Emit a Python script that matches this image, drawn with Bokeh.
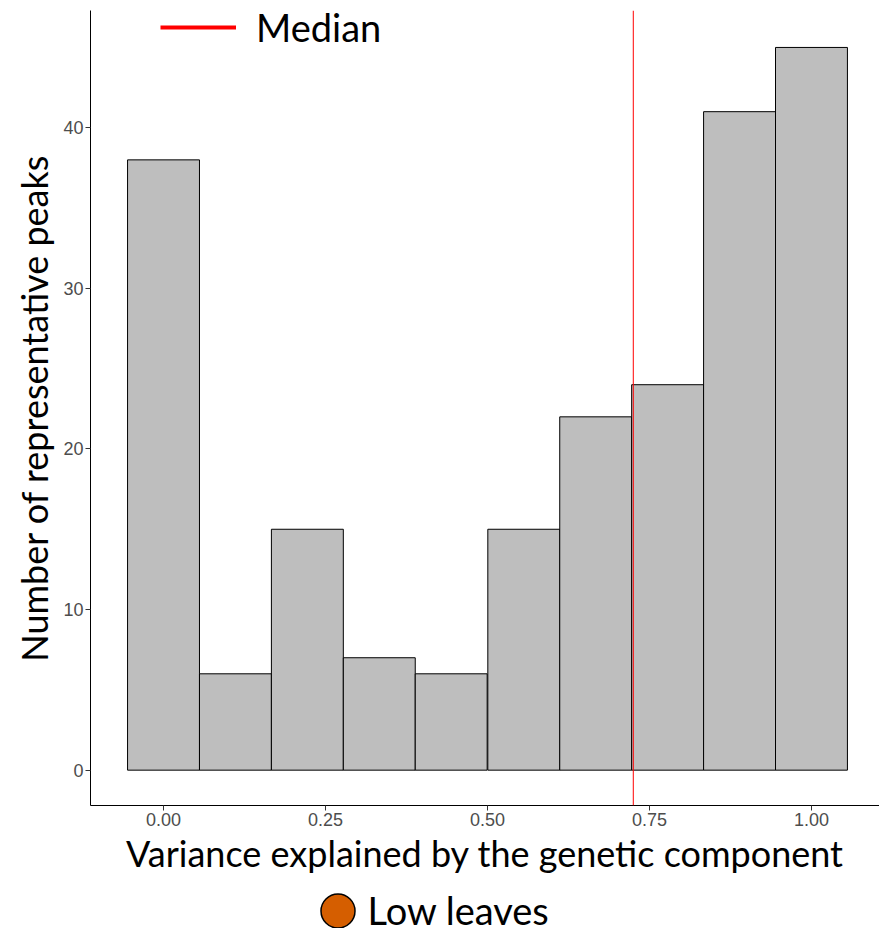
from bokeh.plotting import figure
from bokeh.layouts import column
from bokeh.models import (Span, Legend, LegendItem, FixedTicker, Label,
                          NumeralTickFormatter, ColumnDataSource, Range1d)
from bokeh.embed import file_html
from bokeh.resources import INLINE

# Histogram bins (centres and width) and counts of representative peaks
bin_centers = [0.000, 0.111, 0.222, 0.333, 0.444, 0.556, 0.667, 0.778, 0.889, 1.000]
bin_width = 0.111
counts = [38, 6, 15, 7, 6, 15, 22, 24, 41, 45]

# Median of the variance explained
median_value = 0.725

x_ticks = [0.0, 0.25, 0.5, 0.75, 1.0]
y_ticks = [0, 10, 20, 30, 40]

LABEL_FONT = "Lato"

src = ColumnDataSource(dict(
    left=[c - bin_width / 2 for c in bin_centers],
    right=[c + bin_width / 2 for c in bin_centers],
    top=counts,
    bottom=[0] * len(counts),
))

p = figure(width=879, height=890, output_backend="svg", toolbar_location=None,
           x_range=Range1d(-0.1127, 1.105), y_range=Range1d(-2.2, 47.3),
           min_border_left=90, min_border_right=0, min_border_top=10,
           min_border_bottom=85)
p.outline_line_color = None
p.xgrid.visible = False
p.ygrid.visible = False

p.quad(left="left", right="right", top="top", bottom="bottom", source=src,
       fill_color="#BEBEBE", line_color="black", line_width=1)

p.add_layout(Span(location=median_value, dimension="height",
                  line_color="red", line_width=1))

# Axes
for ax in (p.xaxis[0], p.yaxis[0]):
    ax.axis_line_color = "black"
    ax.axis_line_width = 1
    ax.major_tick_line_color = "#333333"
    ax.major_tick_out = 5
    ax.major_tick_in = 0
    ax.minor_tick_line_color = None
    ax.major_label_text_font = "Liberation Sans"
    ax.major_label_text_font_size = "18px"
    ax.major_label_text_color = "#4D4D4D"
    ax.axis_label_text_font = LABEL_FONT
    ax.axis_label_text_font_size = "36px"
    ax.axis_label_text_font_style = "normal"
    ax.axis_label_text_color = "black"

p.xaxis.ticker = FixedTicker(ticks=x_ticks)
p.xaxis.formatter = NumeralTickFormatter(format="0.00")
p.xaxis.axis_label = "Variance explained by the genetic component"
p.xaxis.major_label_standoff = 2
p.xaxis.axis_label_standoff = 2

p.yaxis.ticker = FixedTicker(ticks=y_ticks)
p.yaxis.axis_label = "Number of representative peaks"
p.yaxis.major_label_standoff = 2
p.yaxis.axis_label_standoff = 4

common = dict(padding=0, margin=0, border_line_color=None,
              background_fill_alpha=0, label_text_font=LABEL_FONT,
              label_text_font_size="38px", label_text_color="black",
              orientation="horizontal")

# Legend key for the median line (kept below the visible range)
r_med = p.line(x=[median_value, median_value], y=[-100, -90],
               line_color="red", line_width=4)
leg_top = Legend(items=[LegendItem(label="Median", renderers=[r_med])],
                 location=(70, 755), glyph_width=76, glyph_height=44,
                 label_standoff=20, **common)
p.add_layout(leg_top)

# Strip below the chart holding the group legend
q = figure(width=879, height=38, output_backend="svg", toolbar_location=None,
           x_range=Range1d(0, 1), y_range=Range1d(0, 1),
           min_border=0, x_axis_type=None, y_axis_type=None)
q.outline_line_color = None
q.xgrid.visible = False
q.ygrid.visible = False
r_low = q.scatter(x=[-5], y=[-5], size=34, marker="circle",
                  fill_color="#D55E00", line_color="black", line_width=1.5)
leg_bottom = Legend(items=[LegendItem(label=" ", renderers=[r_low])],
                    location=(205, -25), glyph_width=85, glyph_height=85,
                    label_standoff=0, **common)
q.add_layout(leg_bottom)
q.add_layout(Label(x=277, y=19, x_units="screen", y_units="screen",
                   text="Low leaves", text_font=LABEL_FONT,
                   text_font_size="38px", text_color="black",
                   text_baseline="middle", text_align="left"))

layout = column(p, q, spacing=0)
open("out.html", "w").write(file_html(layout, INLINE))
